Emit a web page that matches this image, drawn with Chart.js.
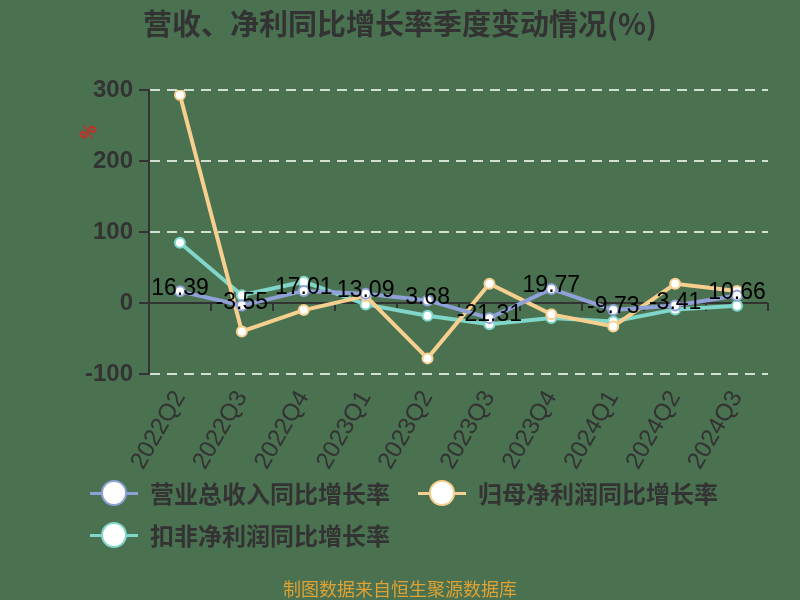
<!DOCTYPE html>
<html lang="zh">
<head>
<meta charset="utf-8">
<title>营收、净利同比增长率季度变动情况</title>
<script src="https://cdn.jsdelivr.net/npm/chart.js"></script>
<style>
    body { margin: 0; background: #4a7150; }
    #wrap { position: relative; width: 800px; height: 600px; font-family: "Noto Sans CJK SC", sans-serif; color: #333; }
    #title { position: absolute; top: 1px; left: 0; width: 800px; text-align: center; font-size: 29px; font-weight: bold; }
    #unit { position: absolute; left: 79px; top: 119px; color: #e0201c; font-size: 17px; font-weight: bold; transform: rotate(-60deg); }
    .leg { position: absolute; font-size: 24px; font-weight: bold; line-height: 30px; white-space: nowrap; }
    .leg i { display: inline-block; position: relative; width: 48px; height: 30px; vertical-align: top; margin-right: 12px; }
    .leg i::before { content: ""; position: absolute; left: 0; right: 0; top: 14px; height: 3px; background: var(--c); }
    .leg i::after { content: ""; position: absolute; left: 11px; top: 2px; width: 22px; height: 22px; border-radius: 50%; background: #fff; border: 2px solid var(--c); }
    #foot { position: absolute; top: 575px; left: 0; width: 800px; text-align: center; font-size: 18px; color: #dea235; }
    canvas { position: absolute; left: 0; top: 0; }
</style>
</head>
<body>
<div id="wrap">
    <canvas id="growthChart" width="800" height="600"></canvas>
    <div id="title">营收、净利同比增长率季度变动情况(%)</div>
    <div id="unit">%</div>
    <div class="leg" style="left:90px;top:478px;--c:#8fa1d6"><i></i>营业总收入同比增长率</div>
    <div class="leg" style="left:418px;top:478px;--c:#f7d08f"><i></i>归母净利润同比增长率</div>
    <div class="leg" style="left:90px;top:520px;--c:#80d6c9"><i></i>扣非净利润同比增长率</div>
    <div id="foot">制图数据来自恒生聚源数据库</div>
</div>

<script>
    const quarters = ['2022Q2', '2022Q3', '2022Q4', '2023Q1', '2023Q2', '2023Q3', '2023Q4', '2024Q1', '2024Q2', '2024Q3'];
    const revenueGrowth = [16.39, -3.55, 17.01, 13.09, 3.68, -21.31, 19.77, -9.73, -3.41, 10.66];
    const netProfitGrowth = [293, -40, -10, 10, -78, 27, -16, -33, 27, 17];
    const deductedProfitGrowth = [85, 11, 30, -2, -18, -30, -21, -26, -9, -4];
    const yTicks = [-100, 0, 100, 200, 300];

    const colors = { revenue: '#8fa1d6', net: '#f7d08f', deducted: '#80d6c9' };

    // zero line with small ticks between quarters
    const zeroAxis = {
        id: 'zeroAxis',
        beforeDatasetsDraw(chart) {
            const { ctx, chartArea, scales } = chart;
            const y0 = scales.y.getPixelForValue(0);
            const step = (chartArea.right - chartArea.left) / quarters.length;
            ctx.save();
            ctx.strokeStyle = '#333';
            ctx.lineWidth = 2;
            ctx.beginPath();
            ctx.moveTo(chartArea.left, y0);
            ctx.lineTo(chartArea.right, y0);
            for (let i = 1; i <= quarters.length; i++) {
                const x = Math.round(chartArea.left + step * i);
                ctx.moveTo(x, y0);
                ctx.lineTo(x, y0 + 8);
            }
            ctx.stroke();
            ctx.restore();
        }
    };

    // value labels on the revenue series
    const valueLabels = {
        id: 'valueLabels',
        afterDatasetsDraw(chart) {
            const { ctx } = chart;
            const meta = chart.getDatasetMeta(0);
            ctx.save();
            ctx.font = '23px "Liberation Sans", Arial, sans-serif';
            ctx.fillStyle = '#000';
            ctx.textAlign = 'center';
            ctx.textBaseline = 'middle';
            meta.data.forEach((pt, i) => {
                ctx.fillText(revenueGrowth[i].toFixed(2), pt.x, pt.y - 3);
            });
            ctx.restore();
        }
    };

    function series(label, data, color) {
        return {
            label: label,
            data: data,
            borderColor: color,
            borderWidth: 4,
            pointRadius: 5,
            pointBorderWidth: 2,
            pointBackgroundColor: '#fff',
            pointBorderColor: color,
            tension: 0
        };
    }

    const ctx = document.getElementById('growthChart').getContext('2d');
    new Chart(ctx, {
        type: 'line',
        data: {
            labels: quarters,
            datasets: [
                series('营业总收入同比增长率', revenueGrowth, colors.revenue),
                series('归母净利润同比增长率', netProfitGrowth, colors.net),
                series('扣非净利润同比增长率', deductedProfitGrowth, colors.deducted)
            ]
        },
        options: {
            responsive: false,
            animation: false,
            layout: { padding: { top: 90, right: 32, bottom: 126, left: 0 } },
            plugins: {
                legend: { display: false },
                tooltip: { enabled: false }
            },
            scales: {
                x: {
                    offset: true,
                    grid: { display: false },
                    border: { display: false },
                    ticks: {
                        color: '#333',
                        minRotation: 60,
                        maxRotation: 60,
                        padding: 4,
                        font: { size: 24, family: '"Liberation Sans", Arial, sans-serif' }
                    },
                    afterFit(scale) { scale.height = 100; }
                },
                y: {
                    min: -100,
                    max: 300,
                    afterBuildTicks(scale) { scale.ticks = yTicks.map(v => ({ value: v })); },
                    grid: {
                        color: c => c.tick && c.tick.value === 0 ? 'rgba(0,0,0,0)' : 'rgba(225,235,225,0.9)',
                        lineWidth: 2,
                        tickColor: '#333',
                        tickLength: 10,
                        tickBorderDash: []
                    },
                    border: { display: true, color: '#333', width: 2, dash: [10, 7] },
                    ticks: {
                        color: '#333',
                        padding: 6,
                        font: { size: 24, weight: 'bold', family: '"Liberation Sans", Arial, sans-serif' }
                    },
                    afterFit(scale) { scale.width = 149; }
                }
            }
        },
        plugins: [zeroAxis, valueLabels]
    });
</script>
</body>
</html>
